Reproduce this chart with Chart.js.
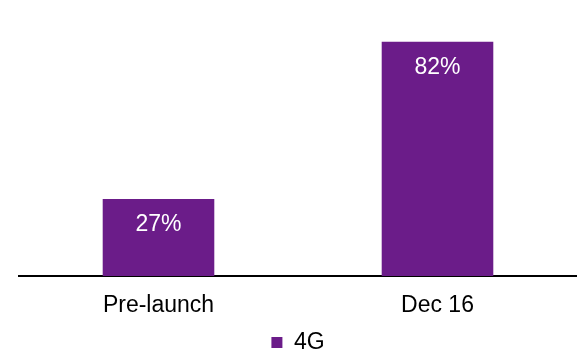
<!DOCTYPE html>
<html lang="en">
<head>
    <meta charset="UTF-8">
    <title>4G share</title>
    <script src="https://cdn.jsdelivr.net/npm/chart.js"></script>
    <style>
        body {
            margin: 0;
            background-color: #ffffff;
        }
        .chart-container {
            width: 577px;
            height: 353px;
        }
    </style>
</head>
<body>
    <div class="chart-container">
        <canvas id="shareChart"></canvas>
    </div>

    <script>
        const categories = ['Pre-launch', 'Dec 16'];
        const seriesName = '4G';
        const shareValues = [27, 82];

        const purple = '#6b1c89';
        const fontFamily = '"Liberation Sans", Arial, sans-serif';

        // white percentage labels inside the top of each bar
        const valueLabels = {
            id: 'valueLabels',
            afterDatasetsDraw(chart) {
                const ctx = chart.ctx;
                const meta = chart.getDatasetMeta(0);
                ctx.save();
                ctx.fillStyle = '#ffffff';
                ctx.font = '23px ' + fontFamily;
                ctx.textAlign = 'center';
                ctx.textBaseline = 'middle';
                meta.data.forEach((bar, i) => {
                    ctx.fillText(shareValues[i] + '%', bar.x, bar.y + 26);
                });
                ctx.restore();
            }
        };

        const ctx = document.getElementById('shareChart').getContext('2d');
        new Chart(ctx, {
            type: 'bar',
            data: {
                labels: categories,
                datasets: [{
                    label: seriesName,
                    data: shareValues,
                    backgroundColor: purple,
                    borderWidth: 0,
                    barPercentage: 1,
                    categoryPercentage: 0.4
                }]
            },
            options: {
                responsive: true,
                maintainAspectRatio: false,
                animation: false,
                layout: {
                    padding: { left: 19, right: 0, top: 19, bottom: 0 }
                },
                plugins: {
                    legend: {
                        display: true,
                        position: 'bottom',
                        maxHeight: 23,
                        labels: {
                            boxWidth: 11,
                            boxHeight: 11,
                            padding: 1,
                            color: '#000000',
                            font: { family: fontFamily, size: 23 }
                        }
                    },
                    tooltip: { enabled: false }
                },
                scales: {
                    x: {
                        grid: { display: false, drawTicks: false },
                        border: { display: true, color: '#000000', width: 2 },
                        ticks: {
                            color: '#000000',
                            padding: 16,
                            font: { family: fontFamily, size: 23 }
                        },
                        afterFit(scale) {
                            scale.height = 54;
                        }
                    },
                    y: {
                        display: false,
                        min: 0,
                        max: 90
                    }
                }
            },
            plugins: [valueLabels]
        });
    </script>
</body>
</html>
